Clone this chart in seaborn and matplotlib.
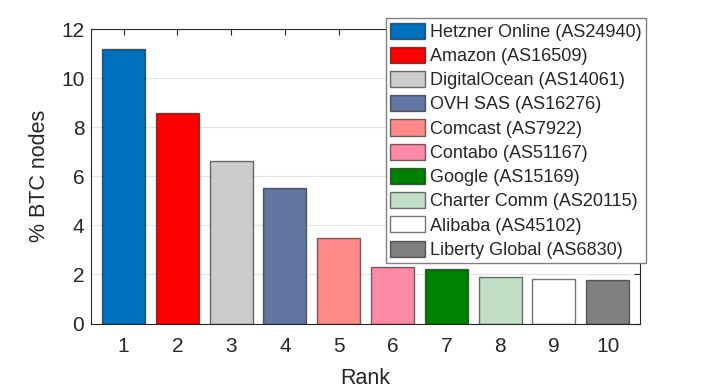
import matplotlib
matplotlib.use("Agg")
import matplotlib.pyplot as plt
import seaborn as sns
import pandas as pd

# data
ranks = [1, 2, 3, 4, 5, 6, 7, 8, 9, 10]
providers = ["Hetzner Online (AS24940)", "Amazon (AS16509)", "DigitalOcean (AS14061)",
             "OVH SAS (AS16276)", "Comcast (AS7922)", "Contabo (AS51167)",
             "Google (AS15169)", "Charter Comm (AS20115)", "Alibaba (AS45102)",
             "Liberty Global (AS6830)"]
pct_nodes = [11.17, 8.56, 6.63, 5.53, 3.47, 2.29, 2.22, 1.91, 1.80, 1.78]
bar_colors = ["#0072BD", "#FF0000", "#CCCCCC", "#6176A0", "#FF8A8A",
              "#FF8AA8", "#008000", "#C3DFC8", "#FFFFFF", "#808080"]

df = pd.DataFrame({"Rank": ranks, "Provider": providers, "pct": pct_nodes})

sns.set_style("white")
plt.rcParams['font.family'] = ['Liberation Sans', 'DejaVu Sans']

fig = plt.figure(figsize=(7.06, 3.9), dpi=100)
ax = fig.add_axes([0.1293, 0.1705, 0.9065 - 0.1293, 0.9256 - 0.1705])

ax.yaxis.grid(True, color="#e3e3e3", linewidth=0.8)
ax.set_axisbelow(True)

for i, row in df.iterrows():
    ax.bar(row["Rank"], row["pct"], width=0.8, color=bar_colors[i],
           edgecolor=(0, 0, 0, 0.55), linewidth=1.0, label=row["Provider"], zorder=2)

ax.set_xlim(0.4, 10.6)
ax.set_ylim(0, 12)
ax.set_xticks(ranks)
ax.set_yticks([0, 2, 4, 6, 8, 10, 12])
ax.tick_params(axis="both", direction="in", length=4, width=0.8, color="#262626",
               labelsize=15, labelcolor="#262626", top=True, right=True)
ax.tick_params(axis="x", pad=10)
ax.tick_params(axis="y", pad=5)
for s in ax.spines.values():
    s.set_color("#262626")
    s.set_linewidth(0.8)

ax.set_xlabel("Rank", fontsize=15.5, color="#262626", labelpad=8)
ax.set_ylabel("% BTC nodes", fontsize=15.5, color="#262626", labelpad=8)

leg = ax.legend(loc="upper right", bbox_to_anchor=(646 / 706, 1 - 18 / 390),
                bbox_transform=fig.transFigure, fontsize=13, frameon=True,
                fancybox=False, edgecolor="#808080", framealpha=1,
                handlelength=1.95, handleheight=1.0, handletextpad=0.25,
                labelspacing=0.33, borderpad=0.25, borderaxespad=0)
leg.get_frame().set_linewidth(1.0)
leg.set_zorder(5)

fig.savefig("out.png", dpi=100)
